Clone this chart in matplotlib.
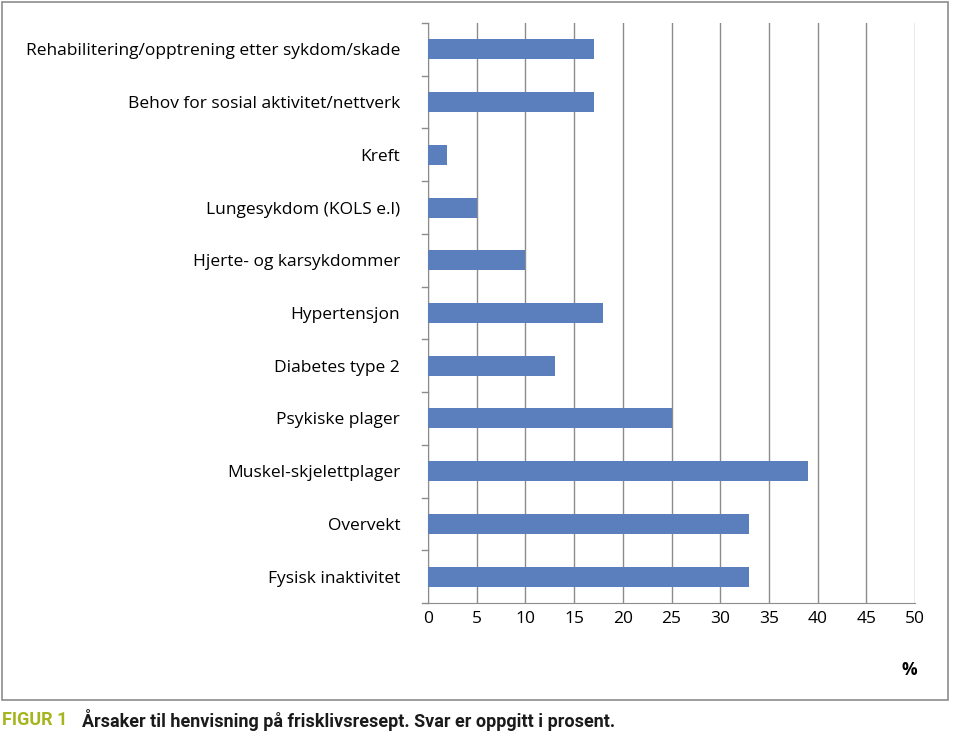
import matplotlib
matplotlib.use("Agg")
import matplotlib.pyplot as plt
from matplotlib.patches import Rectangle

categories = ["Rehabilitering/opptrening etter sykdom/skade", "Behov for sosial aktivitet/nettverk",
              "Kreft", "Lungesykdom (KOLS e.l)", "Hjerte- og karsykdommer", "Hypertensjon",
              "Diabetes type 2", "Psykiske plager", "Muskel-skjelettplager", "Overvekt",
              "Fysisk inaktivitet"]
values = [17, 17, 2, 5, 10, 18, 13, 25, 39, 33, 33]
xticks = [0, 5, 10, 15, 20, 25, 30, 35, 40, 45, 50]

fig = plt.figure(figsize=(9.6, 7.44), dpi=100)
fig.patches.append(Rectangle((2/960, 1-700/744), 946/960, 698/744, transform=fig.transFigure,
                             fill=False, edgecolor="#8c8c8c", linewidth=1.2))
ax = fig.add_axes([428/960, 1-603/744, 487/960, 580/744])
n = len(categories)
y = list(range(n))[::-1]
ax.barh(y, values, height=0.38, color="#5b7fbc", zorder=3)
ax.set_xlim(0, 50)
ax.set_ylim(-0.5, n-0.5)
ax.set_xticks(xticks)
ax.set_xticklabels([str(t) for t in xticks], fontsize=12.5, family="Open Sans")
ax.set_yticks(y)
ax.set_yticklabels(categories, fontsize=12.5, family="Open Sans")
ax.tick_params(axis="y", length=0, pad=20)
ax.tick_params(axis="x", length=0, pad=6)
for yy in [i - 0.5 for i in range(n+1)]:
    ax.plot([-0.6, 0], [yy, yy], color="#8c8c8c", lw=1, clip_on=False)
ax.xaxis.grid(True, color="#8c8c8c", lw=1, zorder=0)
for s in ["top", "right"]:
    ax.spines[s].set_visible(False)
ax.spines["left"].set_color("#8c8c8c")
ax.spines["bottom"].set_color("#8c8c8c")
fig.text(909/960, 1-670/744, "%", fontsize=12.5, family="Open Sans", weight="bold", ha="center", va="center")
fig.text(2/960, 1-720/744, "FIGUR 1", fontsize=13, family="Roboto", weight="bold", color="#a6b51e", va="center")
fig.text(82/960, 1-720/744, "Årsaker til henvisning på frisklivsresept. Svar er oppgitt i prosent.",
         fontsize=13, family="Roboto", weight="bold", color="#1a1a1a", va="center")
fig.savefig("out.png", dpi=100)
